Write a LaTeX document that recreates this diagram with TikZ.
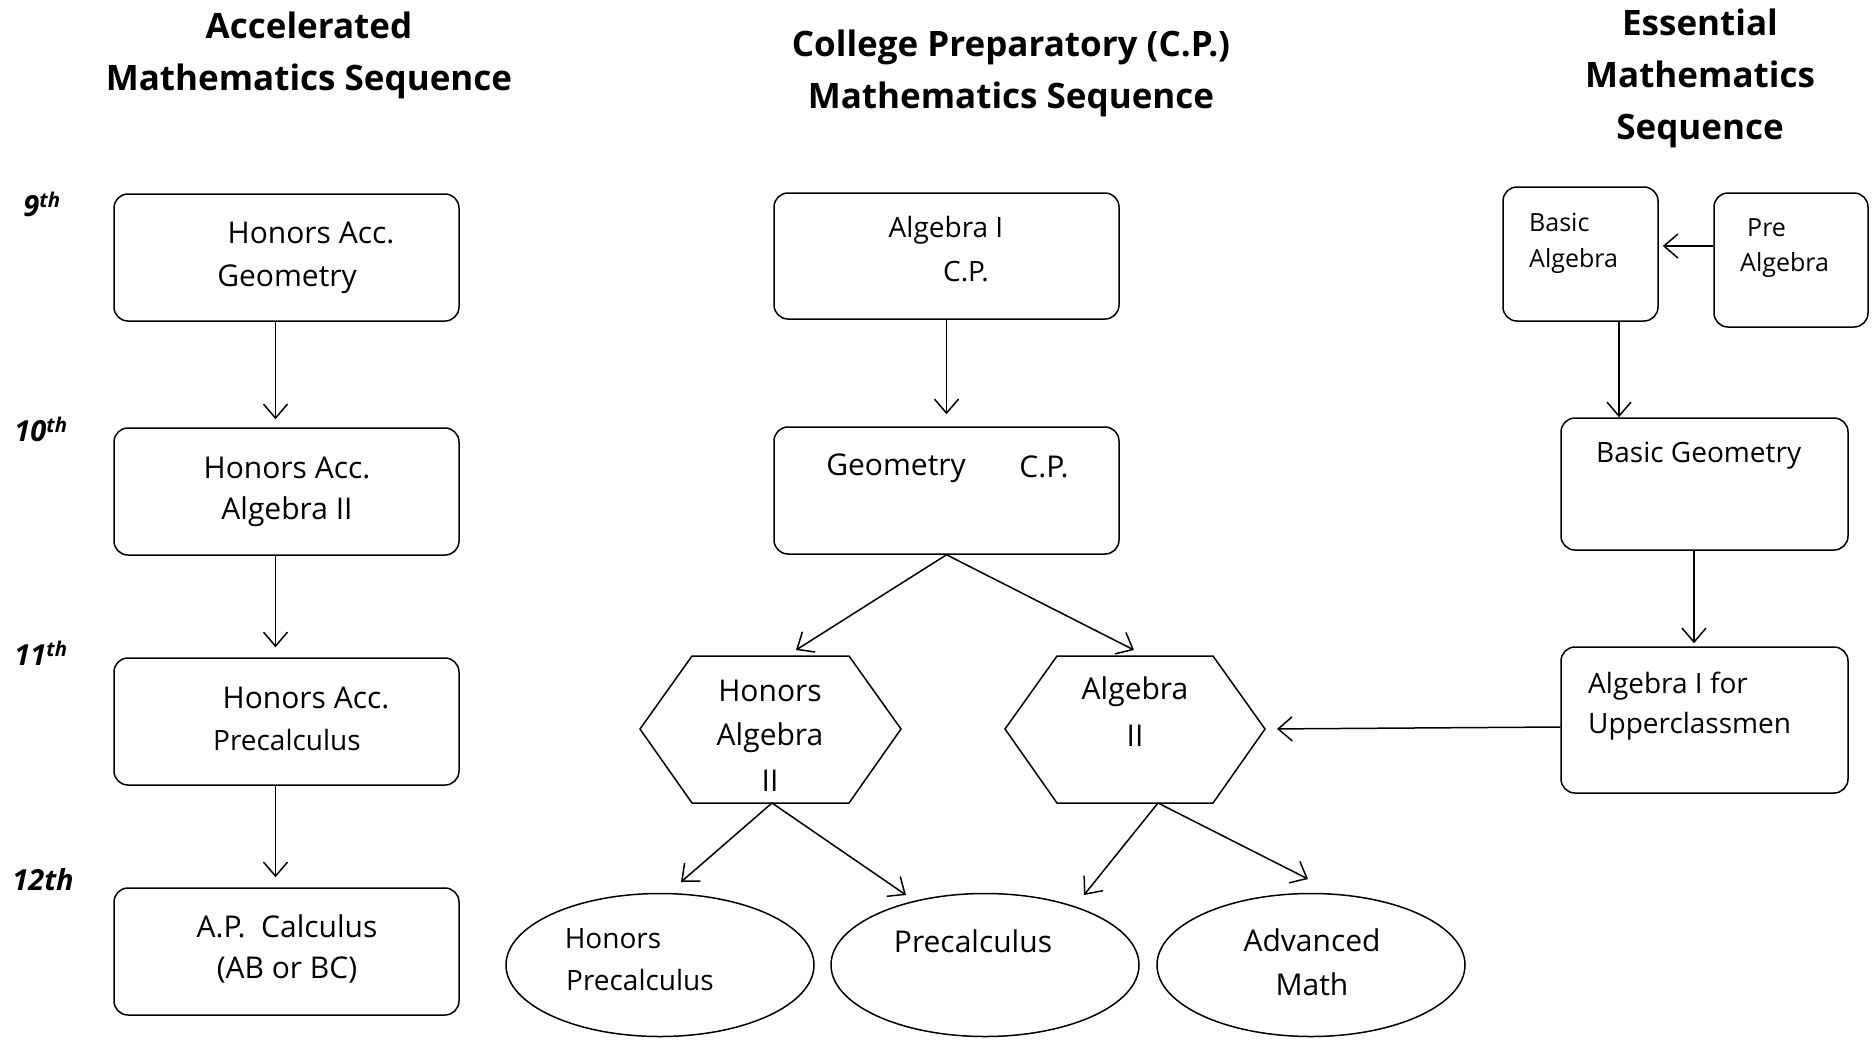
\documentclass[tikz,border=0pt]{standalone}
\usepackage{fontspec}
\setmainfont{Open Sans}
\usetikzlibrary{arrows.meta,shapes.geometric}
\begin{document}
\begin{tikzpicture}[x=1pt,y=-1pt,
  box/.style={draw, rounded corners=14pt, line width=1.5pt, inner sep=0pt},
  oval/.style={draw, ellipse, line width=1.5pt, inner sep=0pt, minimum width=308pt, minimum height=143pt},
  hexa/.style={draw, line width=1.5pt},
  txt/.style={font=\fontsize{30}{36}\selectfont, inner sep=0pt},
  small/.style={font=\fontsize{25}{30}\selectfont, inner sep=0pt, anchor=west},
  mid/.style={font=\fontsize{28}{34}\selectfont, inner sep=0pt, anchor=west},
  ttl/.style={font=\fontsize{35}{52}\selectfont\bfseries, align=center, inner sep=0pt},
  grade/.style={font=\fontsize{29}{32}\selectfont\bfseries\itshape, inner sep=0pt},
  arr/.style={-{Straight Barb[length=14pt,width=24pt]}, line width=1.5pt}
]
\useasboundingbox (0,0) rectangle (1876,1039);
\fill[white] (0,0) rectangle (1876,1039);

% titles
\node[ttl] (t1) at (309,55) {Accelerated\\Mathematics Sequence};
\node[ttl] (t2) at (1011,73) {College Preparatory (C.P.)\\Mathematics Sequence};
\node[ttl] (t3) at (1700,78) {Essential\\Mathematics\\Sequence};

% grades
\node[grade] (g9) at (42,204) {9\textsuperscript{th}};
\node[grade] (g10) at (41,429) {10\textsuperscript{th}};
\node[grade] (g11) at (41,653) {11\textsuperscript{th}};
\node[grade] (g12) at (43,880) {12th};

% accelerated column
\node[box, minimum width=345pt, minimum height=127pt] (b9) at (286.5,257.5) {};
\node[box, minimum width=345pt, minimum height=127pt] (b10) at (286.5,491.5) {};
\node[box, minimum width=345pt, minimum height=127pt] (b11) at (286.5,721.5) {};
\node[box, minimum width=345pt, minimum height=127pt] (b12) at (286.5,951.5) {};
\node[txt] (b9a) at (311,233) {Honors Acc.};
\node[txt] (b9b) at (287,279) {Geometry};
\node[txt] (b10a) at (287,468) {Honors Acc.};
\node[txt] (b10b) at (287,512) {Algebra II};
\node[txt] (b11a) at (306,698) {Honors Acc.};
\node[font=\fontsize{28}{34}\selectfont, inner sep=0pt] (b11b) at (287,740) {Precalculus};
\node[txt] (b12a) at (287,926) {A.P.\ \ Calculus};
\node[txt] (b12b) at (287,970) {(AB or BC)};

\draw[arr, shorten >=8pt] ([xshift=-11pt]b9.south) -- ([xshift=-11pt]b10.north);
\draw[arr, shorten >=10pt] ([xshift=-11pt]b10.south) -- ([xshift=-11pt]b11.north);
\draw[arr, shorten >=10pt] ([xshift=-11pt]b11.south) -- ([xshift=-11pt]b12.north);

% college prep column
\node[box, minimum width=345pt, minimum height=126pt] (cp1) at (946.5,256) {};
\node[box, minimum width=345pt, minimum height=127pt] (cp2) at (946.5,490.5) {};
\node[font=\fontsize{28}{34}\selectfont, inner sep=0pt] (cp1a) at (946,230) {Algebra I};
\node[font=\fontsize{28}{34}\selectfont, inner sep=0pt] (cp1b) at (966,272) {C.P.};
\node[txt] (cp2a) at (896,468) {Geometry};
\node[txt] (cp2b) at (1044,467) {C.P.};
\draw[arr, shorten >=12pt] (cp1.south) -- (cp1.south |- cp2.north);

% hexagons
\coordinate (h1top) at (770,656);
\coordinate (h1bot) at (772,803);
\coordinate (h2top) at (1135,656);
\coordinate (h2bot) at (1158,803);
\coordinate (h2right) at (1265,729);
\draw[hexa] (640,729) -- (692,656) -- (849,656) -- (901,729) -- (849,803) -- (692,803) -- cycle;
\draw[hexa] (1005,729) -- (1057,656) -- (1213,656) -- (1265,729) -- (1213,803) -- (1057,803) -- cycle;
\node[txt] (h1a) at (770,691) {Honors};
\node[txt] (h1b) at (770,738) {Algebra};
\node[txt] (h1c) at (770,781) {II};
\node[txt] (h2a) at (1135,692) {Algebra};
\node[txt] (h2b) at (1135,736) {II};

\coordinate (gA) at (796,650);
\coordinate (gB) at (1134,650);
\draw[arr] (cp2.south) -- (gA);
\draw[arr] (cp2.south) -- (gB);

% ovals
\node[oval] (e1) at (660,965) {};
\node[oval] (e2) at (985,965) {};
\node[oval] (e3) at (1311,965) {};
\node[font=\fontsize{28}{34}\selectfont, inner sep=0pt] (e1a) at (613,939) {Honors};
\node[font=\fontsize{28}{34}\selectfont, inner sep=0pt] (e1b) at (640,980) {Precalculus};
\node[txt] (e2a) at (973,941) {Precalculus};
\node[txt] (e3a) at (1312,940) {Advanced};
\node[txt] (e3b) at (1312,984) {Math};

\coordinate (pA) at (681,882);
\coordinate (pB) at (906,895);
\coordinate (pC) at (1084,895);
\coordinate (pD) at (1308,879);
\draw[arr] (h1bot) -- (pA);
\draw[arr] (h1bot) -- (pB);
\draw[arr] (h2bot) -- (pC);
\draw[arr] (h2bot) -- (pD);

% essential column
\node[box, minimum width=155pt, minimum height=134pt] (ba) at (1580.5,254) {};
\node[box, minimum width=154pt, minimum height=134pt] (pa) at (1791,260) {};
\node[box, minimum width=287pt, minimum height=132pt] (bg) at (1704.5,484) {};
\node[box, minimum width=287pt, minimum height=146pt] (au) at (1704.5,720) {};
\node[small] (baa) at (1529,222) {Basic};
\node[small] (bab) at (1529,261) {Algebra};
\node[small] (paa) at (1747,228) {Pre};
\node[small] (pab) at (1740,265) {Algebra};
\node[mid] (bga) at (1596,456) {Basic Geometry};
\node[mid] (aua) at (1588,686) {Algebra I for};
\node[mid] (aub) at (1588,726) {Upperclassmen};

\draw[arr, shorten >=4pt] (pa.west |- 0,246) -- (ba.east |- 0,246);
\draw[arr] (ba.south -| 1619,0) -- (bg.north -| 1619,0);
\draw[arr, shorten >=3pt] (bg.south -| 1694,0) -- (au.north -| 1694,0);
\draw[arr, shorten >=12pt] (au.west |- 0,727) -- (h2right);

\end{tikzpicture}
\end{document}
